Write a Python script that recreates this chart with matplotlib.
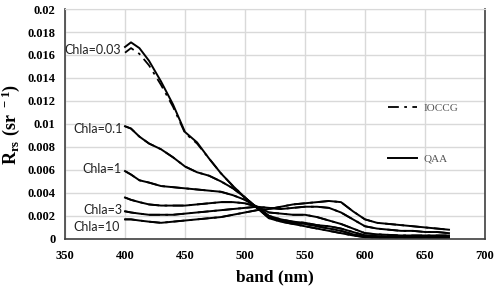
import matplotlib.pyplot as plt
from matplotlib.lines import Line2D

# ---------------------------------------
# Data
# ---------------------------------------

band = [400, 405, 412, 420, 430, 440, 450, 460, 470, 480, 490, 500, 510,
        520, 530, 540, 550, 560, 570, 580, 590, 600, 610, 620, 630, 640,
        650, 660, 670]

qaa_003 = [0.0167, 0.0171, 0.0166, 0.0155, 0.0137, 0.0117, 0.0093, 0.0084,
           0.0070, 0.0057, 0.0046, 0.0036, 0.0027, 0.0018, 0.0015, 0.0013,
           0.0011, 0.0009, 0.0007, 0.0005, 0.0003, 0.00015, 0.0001, 0.0001,
           0.0001, 0.0001, 0.0001, 0.0001, 0.0001]
qaa_01 = [0.0098, 0.0096, 0.0089, 0.0083, 0.0078, 0.0071, 0.0063, 0.0058,
          0.0055, 0.0050, 0.0044, 0.0036, 0.0027, 0.0019, 0.0016, 0.0014,
          0.0013, 0.0011, 0.0009, 0.0007, 0.0004, 0.0002, 0.00015, 0.00015,
          0.00012, 0.00012, 0.0001, 0.0001, 0.0001]
qaa_1 = [0.0059, 0.0056, 0.0051, 0.0049, 0.0046, 0.0045, 0.0044, 0.0043,
         0.0042, 0.0041, 0.0038, 0.0034, 0.0028, 0.0020, 0.0017, 0.0015,
         0.0014, 0.0012, 0.0011, 0.0009, 0.0006, 0.0003, 0.00025, 0.0002,
         0.0002, 0.0002, 0.0002, 0.0002, 0.0002]
qaa_2 = [0.0036, 0.0034, 0.0032, 0.0030, 0.0029, 0.0029, 0.0029, 0.0030,
         0.0031, 0.0032, 0.0032, 0.0031, 0.0028, 0.0023, 0.0022, 0.0021,
         0.0021, 0.0019, 0.0016, 0.0013, 0.0009, 0.0005, 0.0004, 0.00035,
         0.0003, 0.0003, 0.0003, 0.0003, 0.0003]
qaa_3 = [0.0024, 0.0023, 0.0022, 0.0021, 0.0021, 0.0021, 0.0022, 0.0023,
         0.0024, 0.0025, 0.0026, 0.0027, 0.0028, 0.0027, 0.0026, 0.0027,
         0.0028, 0.0028, 0.0027, 0.0023, 0.0017, 0.0011, 0.0009, 0.0008,
         0.0007, 0.0007, 0.0006, 0.0006, 0.0005]
qaa_10 = [0.0017, 0.0017, 0.0016, 0.0015, 0.0014, 0.0015, 0.0016, 0.0017,
          0.0018, 0.0019, 0.0021, 0.0023, 0.0025, 0.0026, 0.0028, 0.0030,
          0.0031, 0.0032, 0.0033, 0.0032, 0.0024, 0.0017, 0.0014, 0.0013,
          0.0012, 0.0011, 0.0010, 0.0009, 0.0008]

ioccg_003 = [0.0162, 0.0166, 0.0161, 0.0151, 0.0134, 0.0115, 0.0092, 0.0083,
             0.0070, 0.0057, 0.0046, 0.0036, 0.0027, 0.0018, 0.0015, 0.0013,
             0.0011, 0.0009, 0.0007, 0.0005, 0.0003, 0.00015, 0.0001, 0.0001,
             0.0001, 0.0001, 0.0001, 0.0001, 0.0001]

qaa_curves = [qaa_003, qaa_01, qaa_1, qaa_2, qaa_3, qaa_10]
ioccg_curves = [ioccg_003, qaa_01, qaa_1, qaa_2, qaa_3, qaa_10]

chla_labels = ["Chla=0.03", "Chla=0.1", "Chla=1", "Chla=3", "Chla=10"]
label_x = [397, 398, 397, 398, 396]
label_y = [0.0164, 0.0096, 0.0061, 0.0025, 0.0010]

x_ticks = [350, 400, 450, 500, 550, 600, 650, 700]
y_ticks = [0, 0.002, 0.004, 0.006, 0.008, 0.01, 0.012, 0.014, 0.016,
           0.018, 0.02]
y_tick_labels = ["0", "0.002", "0.004", "0.006", "0.008", "0.01", "0.012",
                 "0.014", "0.016", "0.018", "0.02"]

# ---------------------------------------
# Plot
# ---------------------------------------

plt.rcParams["mathtext.fontset"] = "custom"
plt.rcParams["mathtext.rm"] = "Liberation Serif"
plt.rcParams["mathtext.bf"] = "Liberation Serif:bold"

fig = plt.figure(figsize=(5, 2.91), dpi=100)
ax = fig.add_axes([0.13, 0.179, 0.84, 0.79])

for y in ioccg_curves:
    ax.plot(band, y, color="black", lw=1.3, linestyle=(0, (6, 3, 1.5, 3)))
for y in qaa_curves:
    ax.plot(band, y, color="black", lw=1.4)

for txt, lx, ly in zip(chla_labels, label_x, label_y):
    ax.text(lx, ly, txt, ha="right", va="center", fontsize=9,
            family="Lato", color="#222222")

ax.set_xlim(350, 700)
ax.set_ylim(0, 0.02)
ax.set_xticks(x_ticks)
ax.set_yticks(y_ticks)
ax.set_yticklabels(y_tick_labels)

for lab in ax.get_xticklabels() + ax.get_yticklabels():
    lab.set_family("Liberation Serif")
    lab.set_fontweight("bold")
    lab.set_fontsize(9)

ax.tick_params(axis="y", length=0, pad=7)
ax.tick_params(axis="x", length=0, pad=8)
ax.grid(True, color="#d9d9d9", lw=1)
ax.set_axisbelow(True)

for side in ["left", "bottom", "right"]:
    ax.spines[side].set_color("#404040")
    ax.spines[side].set_linewidth(1.2)
ax.spines["top"].set_color("#d9d9d9")

ax.set_xlabel("band (nm)", family="Liberation Serif", fontweight="bold",
              fontsize=12.5, labelpad=5)
ax.set_ylabel(r"$\mathbf{R_{rs}}$ $\mathbf{(sr^{\ -1})}$",
              fontsize=13, labelpad=4)

handles = [
    Line2D([], [], color="black", lw=1.3, linestyle=(0, (6, 3, 1.5, 3))),
    Line2D([], [], color="black", lw=1.4),
]
ax.legend(handles, ["IOCCG", "QAA"], loc="upper left",
          bbox_to_anchor=(0.745, 0.635), frameon=False, handlelength=2.6,
          handletextpad=0.6, labelspacing=3.7,
          prop={"family": "Liberation Serif", "size": 8},
          labelcolor="#555555")

plt.savefig("out.png", dpi=100)
